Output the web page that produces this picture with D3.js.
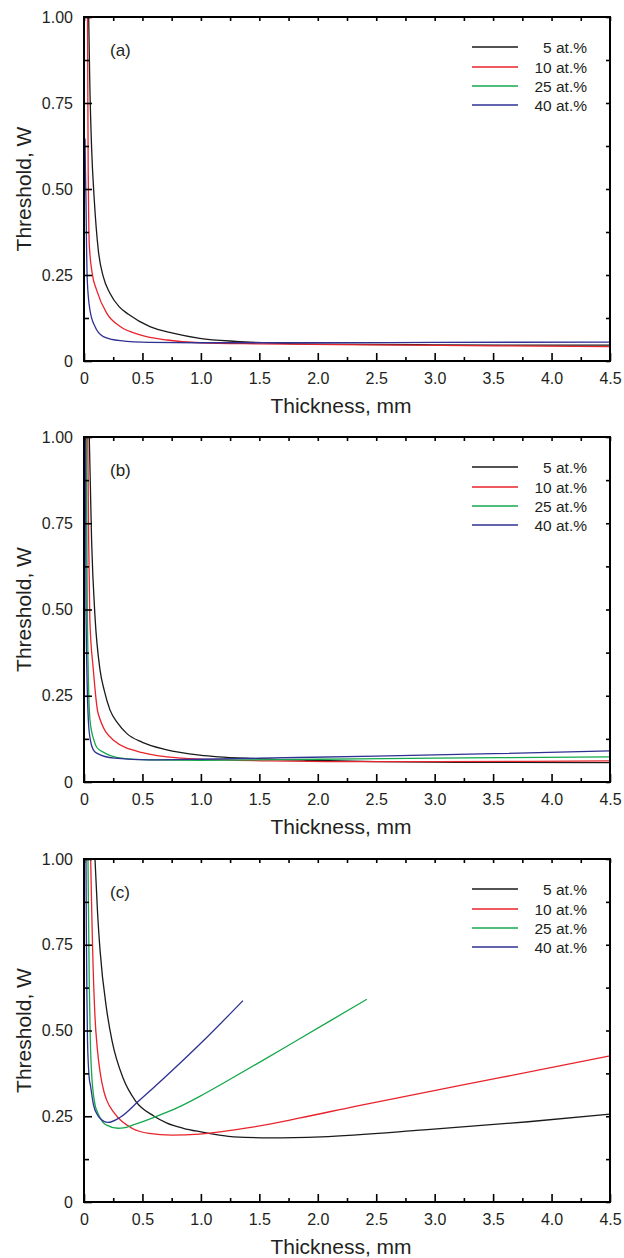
<!DOCTYPE html>
<html><head><meta charset="utf-8">
<script src="https://cdn.jsdelivr.net/npm/d3@7"></script>
<style>
body{margin:0;background:#fff}
svg{display:block}
text{font-family:"Liberation Sans",Arial,Helvetica,sans-serif;fill:#231f20}
</style>
</head><body>
<svg id="chart" width="624" height="1258"></svg>
<script>
// ---------- data ----------
const seriesLabels = ["5 at.%", "10 at.%", "25 at.%", "40 at.%"];
const seriesColors = ["#1a1a1a", "#e8232b", "#14a84b", "#2e3192"];
const panelLabels = ["(a)", "(b)", "(c)"];
const xTickValues = [0, 0.5, 1, 1.5, 2, 2.5, 3, 3.5, 4, 4.5];
const xMinorTicks = [0.25, 0.75, 1.25, 1.75, 2.25, 2.75, 3.25, 3.75, 4.25];
const yTickValues = [0, 0.25, 0.5, 0.75, 1];
const yMinorTicks = [0.125, 0.375, 0.625, 0.875];
const xTitle = "Thickness, mm";
const yTitle = "Threshold, W";

// panel (a)  [thickness mm, threshold W]
const a5 = [[0.04,1.0],[0.05,0.8],[0.065,0.62],[0.088,0.468],[0.122,0.323],[0.165,0.245],[0.222,0.197],[0.3,0.158],[0.38,0.136],[0.564,0.10],[0.76,0.081],[0.99,0.066],[1.3,0.057],[1.63,0.052],[2.0,0.049],[3.0,0.047],[4.5,0.046]];
const a10 = [[0.03,1.0],[0.033,0.75],[0.036,0.55],[0.039,0.45],[0.045,0.34],[0.07,0.255],[0.108,0.206],[0.194,0.139],[0.31,0.10],[0.48,0.076],[0.71,0.061],[0.99,0.053],[1.5,0.05],[2.5,0.047],[3.5,0.044],[4.5,0.042]];
const a40 = [[0.009,0.647],[0.012,0.56],[0.017,0.468],[0.022,0.33],[0.028,0.235],[0.051,0.148],[0.094,0.10],[0.165,0.071],[0.31,0.059],[0.56,0.054],[0.99,0.053],[2.0,0.053],[3.0,0.054],[4.5,0.055]];

// panel (b)
const b5 = [[0.045,1.0],[0.065,0.7],[0.094,0.48],[0.137,0.325],[0.172,0.267],[0.222,0.209],[0.29,0.17],[0.365,0.141],[0.5,0.115],[0.7,0.094],[0.99,0.078],[1.15,0.073],[1.44,0.068],[1.9,0.063],[2.5,0.059],[3.2,0.057],[4.5,0.056]];
const b10 = [[0.032,1.0],[0.04,0.7],[0.05,0.47],[0.08,0.325],[0.12,0.2],[0.25,0.122],[0.5,0.085],[0.84,0.069],[1.2,0.064],[1.6,0.061],[2.2,0.059],[3.0,0.059],[3.8,0.06],[4.5,0.061]];
const b25 = [[0.02,1.0],[0.028,0.5],[0.051,0.18],[0.084,0.122],[0.11,0.1],[0.172,0.085],[0.32,0.069],[0.56,0.064],[1.0,0.063],[2.0,0.066],[3.0,0.069],[4.5,0.073]];
const b40 = [[0.012,1.0],[0.017,0.5],[0.037,0.18],[0.054,0.122],[0.08,0.093],[0.113,0.083],[0.26,0.069],[0.556,0.064],[1.0,0.066],[1.5,0.069],[2.5,0.075],[3.5,0.082],[4.5,0.09]];

// panel (c)
const c5 = [[0.094,1.0],[0.115,0.85],[0.137,0.735],[0.194,0.56],[0.24,0.47],[0.336,0.36],[0.44,0.295],[0.6,0.25],[0.71,0.23],[0.85,0.215],[0.99,0.205],[1.145,0.196],[1.28,0.19],[1.59,0.187],[2.03,0.19],[2.91,0.21],[3.8,0.234],[4.5,0.256]];
const c10 = [[0.057,1.0],[0.066,0.85],[0.074,0.735],[0.094,0.54],[0.113,0.45],[0.137,0.38],[0.172,0.32],[0.194,0.297],[0.26,0.259],[0.41,0.215],[0.556,0.2],[0.75,0.195],[0.99,0.198],[1.44,0.218],[1.85,0.245],[2.32,0.279],[3.21,0.339],[4.09,0.398],[4.5,0.426]];
const c25 = [[0.034,1.0],[0.04,0.8],[0.045,0.638],[0.054,0.472],[0.066,0.37],[0.098,0.278],[0.108,0.268],[0.172,0.229],[0.194,0.224],[0.29,0.215],[0.34,0.216],[0.44,0.227],[0.6,0.247],[0.8,0.275],[0.99,0.308],[1.22,0.352],[1.53,0.413],[1.82,0.471],[2.42,0.591]];
const c40 = [[0.017,1.0],[0.02,0.8],[0.025,0.6],[0.03,0.47],[0.045,0.36],[0.055,0.34],[0.08,0.285],[0.113,0.255],[0.137,0.244],[0.205,0.232],[0.31,0.247],[0.47,0.295],[0.69,0.363],[1.03,0.473],[1.36,0.587]];

const panelSeries = [[a5, a10, null, a40], [b5, b10, b25, b40], [c5, c10, c25, c40]];

// ---------- layout ----------
const svg = d3.select("#chart");
const plotLeft = 84, plotRight = 610;
const panelTops = [17, 437, 859];
const panelBottoms = [361, 782, 1202];

panelSeries.forEach((series, p) => {
  const top = panelTops[p], bottom = panelBottoms[p];
  const x = d3.scaleLinear().domain([0, 4.5]).range([plotLeft, plotRight]);
  const y = d3.scaleLinear().domain([0, 1]).range([bottom, top]);
  const g = svg.append("g");

  const clipId = "clip" + p;
  g.append("clipPath").attr("id", clipId).append("rect")
    .attr("x", plotLeft).attr("y", top).attr("width", plotRight - plotLeft).attr("height", bottom - top);

  // curves
  const line = d3.line().x(d => x(d[0])).y(d => y(d[1])).curve(d3.curveMonotoneX);
  series.forEach((s, i) => {
    if (!s) return;
    g.append("path").datum(s).attr("d", line)
      .attr("fill", "none").attr("stroke", seriesColors[i]).attr("stroke-width", 1.3)
      .attr("clip-path", `url(#${clipId})`);
  });

  // axes
  const styleAxis = sel => {
    sel.select(".domain").remove();
    sel.selectAll(".tick line").attr("stroke", "#000").attr("stroke-width", 1.6);
    sel.selectAll(".tick text").attr("font-size", 16).attr("fill", "#231f20")
      .style("font-family", '"Liberation Sans",Arial,Helvetica,sans-serif');
  };
  g.append("g").attr("transform", `translate(0,${bottom})`)
    .call(d3.axisBottom(x).tickValues(xTickValues).tickSize(-8).tickPadding(12)
      .tickFormat(d => d === 0 ? "0" : d.toFixed(1))).call(styleAxis);
  g.append("g").attr("transform", `translate(0,${bottom})`)
    .call(d3.axisBottom(x).tickValues(xMinorTicks).tickSize(-4).tickFormat("")).call(styleAxis);
  g.append("g").attr("transform", `translate(${plotLeft},0)`)
    .call(d3.axisLeft(y).tickValues(yTickValues).tickSize(-8).tickPadding(11)
      .tickFormat(d => d === 0 ? "0" : d.toFixed(2))).call(styleAxis);
  g.append("g").attr("transform", `translate(${plotLeft},0)`)
    .call(d3.axisLeft(y).tickValues(yMinorTicks).tickSize(-5).tickFormat("")).call(styleAxis);
  g.append("g").attr("transform", `translate(0,${top})`)
    .call(d3.axisTop(x).tickValues(xTickValues.concat(xMinorTicks)).tickSize(-4).tickFormat("")).call(styleAxis);
  g.append("g").attr("transform", `translate(${plotRight},0)`)
    .call(d3.axisRight(y).tickValues(yTickValues.concat(yMinorTicks)).tickSize(-4).tickFormat("")).call(styleAxis);

  // frame
  g.append("rect").attr("x", plotLeft).attr("y", top)
    .attr("width", plotRight - plotLeft).attr("height", bottom - top)
    .attr("fill", "none").attr("stroke", "#000").attr("stroke-width", 2);

  // titles
  g.append("text").attr("x", 341).attr("y", bottom + 52)
    .attr("text-anchor", "middle").attr("font-size", 21).text(xTitle);
  g.append("text").attr("transform", `translate(31,${(top + bottom) / 2}) rotate(-90)`)
    .attr("text-anchor", "middle").attr("font-size", 21).text(yTitle);

  // panel label
  g.append("text").attr("x", 110).attr("y", top + 39).attr("font-size", 17).text(panelLabels[p]);

  // legend
  const rowOffsets = [30, 50, 69, 88];
  seriesLabels.forEach((lab, i) => {
    const ly = top + rowOffsets[i];
    g.append("line").attr("x1", 472).attr("x2", 518).attr("y1", ly).attr("y2", ly)
      .attr("stroke", seriesColors[i]).attr("stroke-width", 1.5);
    g.append("text").attr("x", 587).attr("y", ly + 5.5).attr("text-anchor", "end")
      .attr("font-size", 15.5).text(lab);
  });
});
</script>
</body></html>
